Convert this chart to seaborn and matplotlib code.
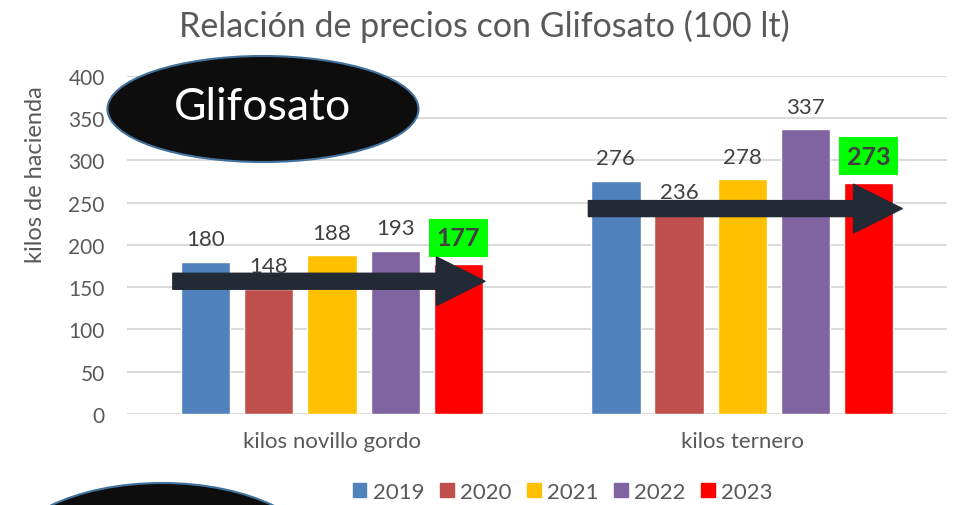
import matplotlib
matplotlib.use("Agg")
import matplotlib.pyplot as plt
import seaborn as sns
import pandas as pd
from matplotlib.patches import Ellipse, Patch

# datos
categories = ['kilos novillo gordo', 'kilos ternero']
years = ['2019', '2020', '2021', '2022', '2023']
novillo = [180, 148, 188, 193, 177]
ternero = [276, 236, 278, 337, 273]
colors = ['#4f81bd', '#c0504d', '#ffc000', '#8064a2', '#ff0000']

df = pd.DataFrame({
    'categoria': [categories[0]] * len(years) + [categories[1]] * len(years),
    'anio': years * 2,
    'kilos': novillo + ternero,
})

sns.set_style('white')
plt.rcParams['font.family'] = ['Lato', 'DejaVu Sans']
gray = '#595959'

fig = plt.figure(figsize=(9.54, 5.06), dpi=100)
ax = fig.add_axes([0.133, 0.18, 0.86, 0.668])

sns.barplot(data=df, x='categoria', y='kilos', hue='anio', palette=colors,
            width=0.77, gap=0.22, ax=ax, legend=False, saturation=1)

ax.set_ylim(0, 400)
ax.set_yticks(range(0, 401, 50))
ax.set_xlim(-0.5, 1.5)
ax.yaxis.grid(True, color='#d9d9d9', lw=1.4)
ax.set_axisbelow(True)
sns.despine(ax=ax, left=True, bottom=True)
ax.tick_params(axis='both', length=0, labelcolor=gray)
ax.tick_params(axis='y', pad=16, labelsize=15)
ax.tick_params(axis='x', pad=12, labelsize=16)
ax.set_xlabel('')
ax.set_ylabel('kilos de hacienda', fontsize=17, color=gray)
ax.yaxis.set_label_coords(-0.099, 0.71)

# etiquetas de datos
for cont in ax.containers[:-1]:
    ax.bar_label(cont, padding=9, fontsize=16, color='#404040')
ax.bar_label(ax.containers[-1], padding=11, fontsize=18, fontweight='bold',
             color='#404040',
             bbox=dict(boxstyle='square,pad=0.3', fc='#00ff00', ec='none'))

# flechas
arrow_kw = dict(arrowstyle='simple,head_length=0.7,head_width=0.7,tail_width=0.23',
                color='#222a35', mutation_scale=50, shrinkA=0, shrinkB=0)
ax.annotate('', xy=(0.373, 157), xytext=(-0.388, 157), arrowprops=arrow_kw)
ax.annotate('', xy=(1.39, 243), xytext=(0.625, 243), arrowprops=arrow_kw)

# elipses
fig.add_artist(Ellipse((2.63, 3.96), 3.11, 1.06, transform=fig.dpi_scale_trans,
                       fc='#0d0d0d', ec='#41719c', lw=1.5, zorder=5))
fig.text(263 / 954, 1 - 108 / 506, 'Glifosato', color='white', fontsize=32,
         ha='center', va='center', zorder=6)
fig.add_artist(Ellipse((1.62, -0.58), 3.2, 1.6, transform=fig.dpi_scale_trans,
                       fc='#0d0d0d', ec='#41719c', lw=1.5, zorder=5))

fig.text(484 / 954, 1 - 26 / 506, 'Relación de precios con Glifosato (100 lt)',
         color=gray, fontsize=24.5, ha='center', va='center')

handles = [Patch(color=c) for c in colors]
fig.legend(handles, years, loc='center', bbox_to_anchor=(563 / 954, 1 - 493 / 506),
           ncol=5, frameon=False, fontsize=16, labelcolor=gray,
           handlelength=0.6, handleheight=0.6, handletextpad=0.3, columnspacing=0.7)

fig.savefig('out.png', dpi=100)
